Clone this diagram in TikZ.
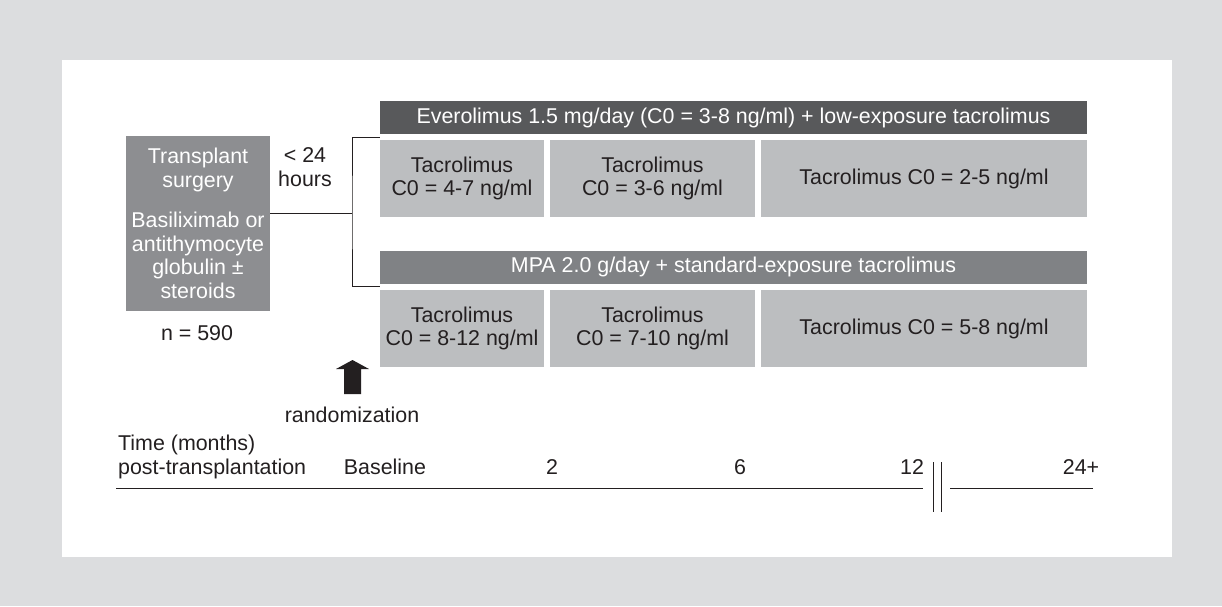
\documentclass[tikz,border=0pt]{standalone}
\usepackage{fontspec}
\setmainfont{Liberation Sans}
\usetikzlibrary{positioning,calc}
\definecolor{bggray}{RGB}{220,221,223}
\definecolor{darkbar}{RGB}{88,89,91}
\definecolor{midbar}{RGB}{128,130,133}
\definecolor{boxgray}{RGB}{141,142,145}
\definecolor{cellgray}{RGB}{188,190,192}
\definecolor{ink}{RGB}{35,31,32}

\begin{document}
\begin{tikzpicture}[x=1pt,y=-1pt,
	font=\fontsize{21.4}{23.5}\selectfont,
	bar/.style={minimum width=707pt,minimum height=33pt,inner sep=0pt,text=white},
	cell/.style={fill=cellgray,minimum height=77pt,inner sep=0pt,align=center,text=ink},
	lbl/.style={inner sep=0pt,align=center,text=ink},
	rule/.style={draw=ink,line width=1pt}
]
	%Background
	\fill[bggray] (0,0) rectangle (1222,606);
	\fill[white] (62,60) rectangle (1172,557);
	%Nodes
	\node[fill=boxgray,text=white,minimum width=144pt,minimum height=175pt,inner sep=0pt,align=center] (TX) at (198,223.5) {Transplant\\surgery\\[17pt]Basiliximab or\\antithymocyte\\globulin ±\\steroids};
	\node[lbl] (H24) at (305,167) {< 24\\hours};
	\node[lbl] (N) at (197,333) {n = 590};
	\node[bar,fill=darkbar] (EVO) at (733.5,117.5) {Everolimus 1.5 mg/day (C0 = 3-8 ng/ml) + low-exposure tacrolimus};
	\node[cell,minimum width=164pt] (E1) at (462,178.5) {Tacrolimus\\C0 = 4-7 ng/ml};
	\node[cell,minimum width=205pt] (E2) at (652.5,178.5) {Tacrolimus\\C0 = 3-6 ng/ml};
	\node[cell,minimum width=326pt] (E3) at (924,178.5) {Tacrolimus C0 = 2-5 ng/ml};
	\node[bar,fill=midbar] (MPA) at (733.5,267) {MPA 2.0 g/day + standard-exposure tacrolimus};
	\node[cell,minimum width=164pt] (M1) at (462,328.5) {Tacrolimus\\C0 = 8-12 ng/ml};
	\node[cell,minimum width=205pt] (M2) at (652.5,328.5) {Tacrolimus\\C0 = 7-10 ng/ml};
	\node[cell,minimum width=326pt] (M3) at (924,328.5) {Tacrolimus C0 = 5-8 ng/ml};
	\node[lbl] (RND) at (352,415) {randomization};
	%Time axis labels
	\node[lbl,anchor=base west] (TM) at (118,450.5) {Time (months)};
	\node[lbl,anchor=base west] (PT) at (118,474) {post-transplantation};
	\node[lbl,anchor=base] (T0) at (385,474) {Baseline};
	\node[lbl,anchor=base] (T2) at (552,474) {2};
	\node[lbl,anchor=base] (T6) at (740,474) {6};
	\node[lbl,anchor=base] (T12) at (912,474) {12};
	\node[lbl,anchor=base] (T24) at (1081,474) {24+};
	%Bracket
	\coordinate (J) at (352,213);
	\draw[rule] (TX.east |- J) -- (J);
	\draw[rule] ($(EVO.south west)!.5!(E1.north west)$) -| (J) |- ($(MPA.south west)!.5!(M1.north west)$);
	%Arrow
	\coordinate (AR) at (352.5,394);
	\fill[ink] (AR) ++(-8.5,0) -- ++(0,-25) -- ++(-8,0) -- ++(16.5,-9) -- ++(16.5,9) -- ++(-8,0) -- ++(0,25) -- cycle;
	%Axis
	\coordinate (A0) at (116,488);
	\coordinate (A1) at (923,488);
	\coordinate (A2) at (950,488);
	\coordinate (A3) at (1093,488);
	\draw[rule] (A0) -- (A1) (A2) -- (A3);
	\draw[rule] (933,462) -- (933,512) (941,462) -- (941,512);
\end{tikzpicture}
\end{document}
